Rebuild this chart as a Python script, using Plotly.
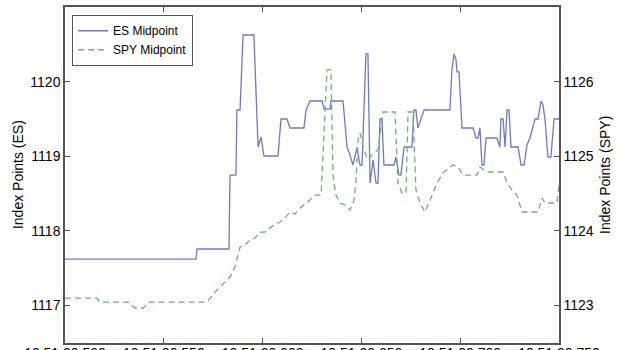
import plotly.graph_objects as go

# time offsets in ms (tick 500 -> 10:51:20.500)
es_t = [500.0, 566.3, 566.8, 583.0, 583.5, 586.5, 587.0, 588.6, 590.1, 595.6, 597.7, 599.2, 600.7,
        607.8, 609.3, 612.3, 613.9, 620.9, 622.0, 624.0, 630.1, 631.1, 634.1, 634.6, 640.7, 642.7,
        644.2, 645.7, 647.8, 649.3, 650.3, 651.3, 652.3, 653.3, 654.4, 655.9, 657.4, 658.4, 659.4,
        660.4, 661.4, 666.5, 667.5, 669.0, 670.0, 671.6, 675.6, 676.6, 677.6, 678.6, 680.7, 681.7,
        694.8, 695.8, 696.9, 697.9, 698.4, 699.4, 700.9, 706.5, 708.0, 709.0, 710.0, 711.0, 712.0,
        713.1, 718.6, 720.1, 720.6, 721.7, 722.7, 723.7, 724.7, 725.7, 729.3, 730.8, 732.3, 733.8,
        735.3, 737.9, 739.4, 740.9, 741.9, 742.9, 744.4, 745.9, 747.5, 750.0]
es_v = [1117.618, 1117.618, 1117.753, 1117.753, 1118.747, 1118.747, 1119.621, 1119.621, 1120.629,
        1120.629, 1119.124, 1119.258, 1119.003, 1119.003, 1119.500, 1119.500, 1119.379, 1119.379,
        1119.621, 1119.742, 1119.742, 1119.634, 1119.634, 1119.742, 1119.742, 1119.124, 1119.016,
        1118.882, 1119.110, 1118.882, 1118.882, 1119.755, 1120.374, 1120.374, 1118.640, 1118.949,
        1118.640, 1118.640, 1119.500, 1119.500, 1118.882, 1118.882, 1118.989, 1118.747, 1118.747,
        1119.124, 1119.124, 1119.621, 1119.621, 1119.379, 1119.554, 1119.621, 1119.621, 1120.159,
        1120.374, 1120.293, 1120.132, 1120.132, 1119.379, 1119.379, 1119.245, 1119.245, 1119.379,
        1118.882, 1118.882, 1119.245, 1119.245, 1119.124, 1119.500, 1119.500, 1119.124, 1119.621,
        1119.621, 1119.124, 1119.124, 1118.882, 1118.882, 1119.151, 1119.245, 1119.500, 1119.500,
        1119.742, 1119.688, 1119.500, 1118.989, 1118.989, 1119.500, 1119.500]

spy_t = [500.0, 516.2, 517.7, 531.9, 535.4, 539.5, 543.0, 571.9, 576.9, 583.5, 586.0, 588.6, 591.1,
         593.6, 596.2, 598.7, 601.2, 603.7, 606.3, 608.8, 611.3, 613.9, 616.4, 618.9, 621.5, 624.0,
         626.5, 629.6, 632.6, 634.6, 635.6, 637.1, 639.2, 641.7, 644.2, 646.3, 647.3, 648.3, 649.3,
         651.3, 653.3, 655.4, 658.4, 659.9, 660.9, 667.0, 668.5, 670.5, 672.6, 673.6, 676.1, 677.6,
         679.7, 682.2, 684.7, 688.3, 691.3, 696.4, 698.9, 701.4, 708.5, 710.0, 713.6, 721.7, 723.7,
         726.2, 728.7, 731.3, 739.4, 741.4, 742.9, 749.0, 750.0]
spy_v = [1123.094, 1123.094, 1123.040, 1123.040, 1122.960, 1122.960, 1123.040, 1123.040, 1123.202,
         1123.376, 1123.511, 1123.780, 1123.806, 1123.874, 1123.901, 1123.981, 1123.981, 1124.035,
         1124.089, 1124.116, 1124.169, 1124.250, 1124.223, 1124.304, 1124.358, 1124.411, 1124.478,
         1124.478, 1126.159, 1126.159, 1124.747, 1124.478, 1124.371, 1124.344, 1124.277, 1124.411,
         1124.680, 1125.218, 1125.312, 1125.083, 1124.949, 1125.016, 1125.083, 1125.352, 1125.594,
         1125.594, 1124.640, 1124.505, 1124.505, 1125.594, 1125.594, 1124.546, 1124.371, 1124.250,
         1124.411, 1124.640, 1124.774, 1124.882, 1124.855, 1124.747, 1124.747, 1124.855, 1124.788,
         1124.788, 1124.640, 1124.546, 1124.478, 1124.250, 1124.250, 1124.438, 1124.371, 1124.371,
         1124.613]

x_tickvals = [500, 550, 600, 650, 700, 750]
x_ticktext = ["10:51:20.500", "10:51:20.550", "10:51:20.600", "10:51:20.650", "10:51:20.700", "10:51:20.750"]
es_ticks = [1117, 1118, 1119, 1120]
spy_ticks = [1123, 1124, 1125, 1126]

FONT = "Liberation Sans, Arial, sans-serif"
AXC = "#555555"

fig = go.Figure()
fig.add_trace(go.Scatter(x=es_t, y=es_v, mode="lines", name="ES Midpoint",
                         line=dict(color="#6f78c8", width=1.3)))
fig.add_trace(go.Scatter(x=spy_t, y=spy_v, mode="lines", name="SPY Midpoint", yaxis="y2",
                         line=dict(color="#6cb46c", width=1.3, dash="6px,4px")))

axis_common = dict(showgrid=False, zeroline=False, showline=True, linecolor=AXC, linewidth=1.5,
                   ticks="inside", ticklen=5, tickcolor=AXC, automargin=False,
                   tickfont=dict(family=FONT, size=14, color="black"))

fig.update_layout(
    width=624, height=350,
    margin=dict(l=65, r=65, t=7, b=7, autoexpand=False),
    paper_bgcolor="white", plot_bgcolor="white",
    showlegend=True,
    legend=dict(x=0.014, y=0.976, xanchor="left", yanchor="top",
                bgcolor="white", bordercolor=AXC, borderwidth=1.2,
                font=dict(family=FONT, size=12, color="black"),
                tracegroupgap=0, itemwidth=30),
    xaxis=dict(range=[500, 750], tickvals=x_tickvals, ticktext=x_ticktext, mirror="ticks",
               ticklabelstandoff=-4, **axis_common),
    yaxis=dict(range=[1116.49, 1121.005], tickvals=es_ticks, mirror=True, **axis_common),
    yaxis2=dict(range=[1122.49, 1127.005], tickvals=spy_ticks, overlaying="y", side="right",
                **axis_common),
    annotations=[
        dict(text="Index Points (ES)", xref="paper", yref="paper", x=-0.095, y=0.5,
             xanchor="center", yanchor="middle",
             textangle=-90, showarrow=False, font=dict(family=FONT, size=14, color="black")),
        dict(text="Index Points (SPY)", xref="paper", yref="paper", x=1.093, y=0.5,
             xanchor="center", yanchor="middle",
             textangle=-90, showarrow=False, font=dict(family=FONT, size=14, color="black")),
    ],
)

fig.write_html("out.html")
